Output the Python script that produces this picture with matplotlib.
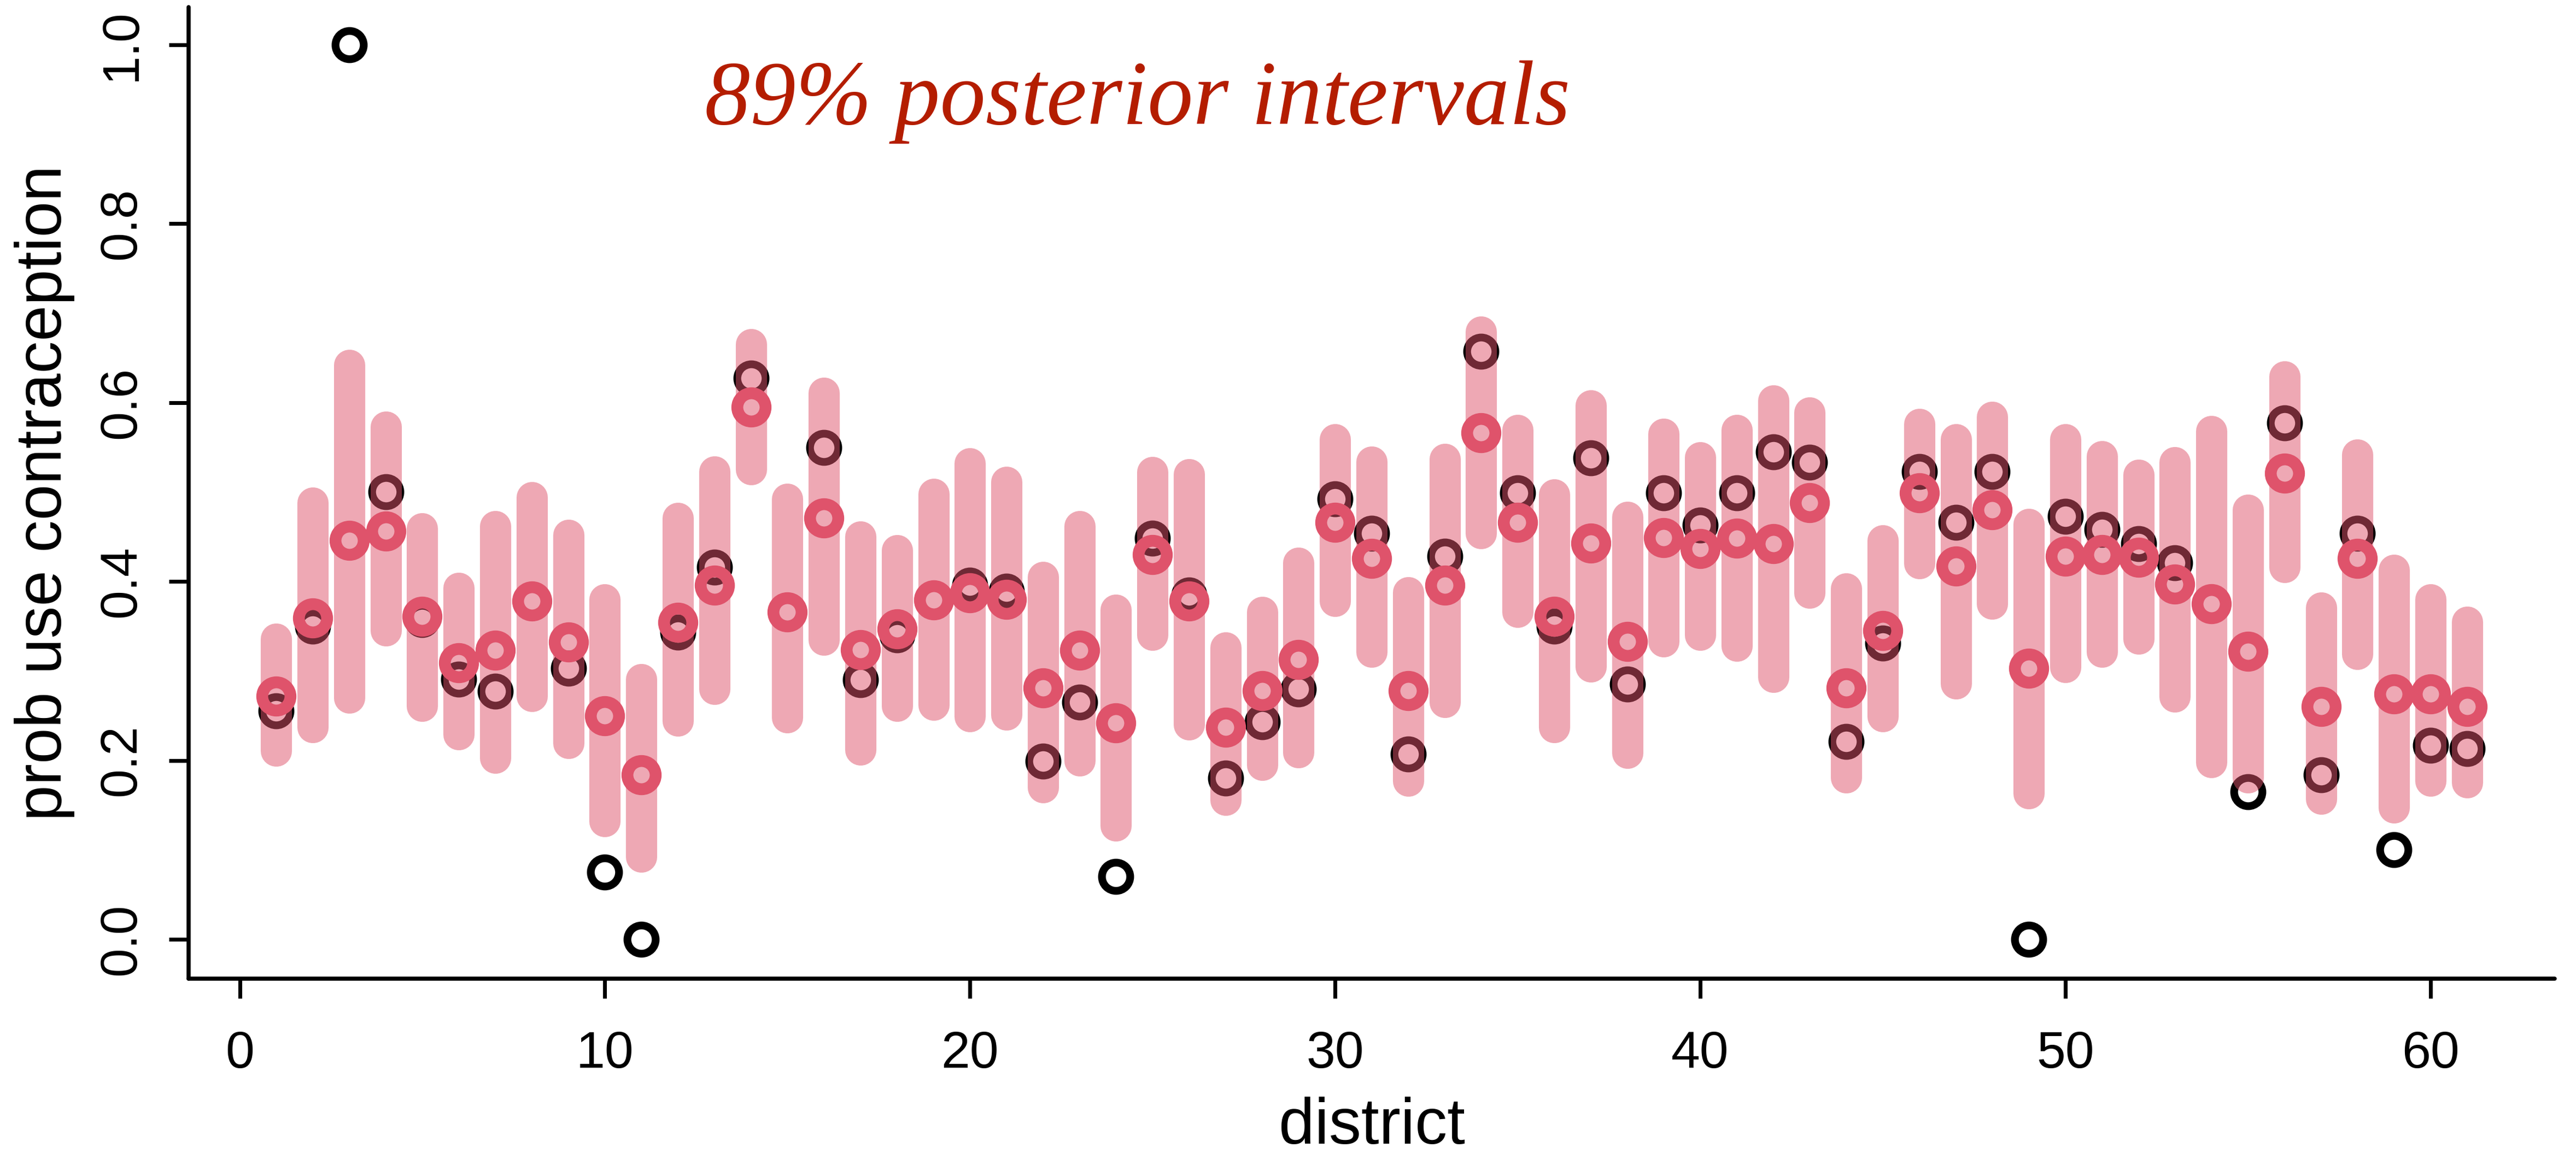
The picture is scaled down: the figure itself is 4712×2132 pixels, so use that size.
import numpy as np
import matplotlib
matplotlib.use("Agg")
import matplotlib.pyplot as plt

# 89% posterior interval bounds, posterior means and raw proportions per district
district = np.arange(1, 62)

upper = [0.336, 0.488, 0.642, 0.573, 0.459, 0.393, 0.462, 0.494, 0.452, 0.380,
         0.291, 0.471, 0.523, 0.665, 0.492, 0.611, 0.450, 0.435, 0.498, 0.532,
         0.511, 0.405, 0.462, 0.368, 0.522, 0.520, 0.326, 0.366, 0.421, 0.559,
         0.534, 0.388, 0.537, 0.679, 0.569, 0.497, 0.597, 0.472, 0.565, 0.539,
         0.569, 0.602, 0.589, 0.392, 0.446, 0.576, 0.559, 0.584, 0.464, 0.559,
         0.540, 0.519, 0.533, 0.568, 0.480, 0.629, 0.371, 0.542, 0.413, 0.380,
         0.355]

lower = [0.211, 0.237, 0.270, 0.345, 0.261, 0.229, 0.203, 0.272, 0.219, 0.132,
         0.092, 0.244, 0.280, 0.525, 0.248, 0.335, 0.212, 0.261, 0.262, 0.249,
         0.251, 0.170, 0.200, 0.127, 0.340, 0.240, 0.156, 0.195, 0.209, 0.378,
         0.321, 0.177, 0.265, 0.454, 0.366, 0.237, 0.305, 0.208, 0.333, 0.340,
         0.328, 0.293, 0.387, 0.181, 0.249, 0.420, 0.286, 0.375, 0.163, 0.304,
         0.321, 0.336, 0.271, 0.198, 0.181, 0.416, 0.157, 0.319, 0.147, 0.177,
         0.175]

posterior_mean = [0.272, 0.359, 0.446, 0.456, 0.361, 0.309, 0.323, 0.378, 0.332, 0.250,
                  0.184, 0.354, 0.396, 0.595, 0.366, 0.471, 0.324, 0.347, 0.379, 0.387,
                  0.380, 0.281, 0.323, 0.242, 0.430, 0.378, 0.237, 0.278, 0.313, 0.466,
                  0.426, 0.278, 0.396, 0.566, 0.466, 0.361, 0.443, 0.333, 0.449, 0.437,
                  0.448, 0.442, 0.488, 0.281, 0.345, 0.499, 0.417, 0.480, 0.303, 0.428,
                  0.430, 0.427, 0.397, 0.375, 0.322, 0.521, 0.260, 0.426, 0.274, 0.274,
                  0.260]

observed = [0.255, 0.350, 1.000, 0.500, 0.357, 0.291, 0.277, 0.378, 0.303, 0.075,
            0.000, 0.343, 0.416, 0.627, 0.366, 0.550, 0.290, 0.340, 0.381, 0.396,
            0.389, 0.199, 0.265, 0.070, 0.448, 0.385, 0.180, 0.243, 0.280, 0.492,
            0.454, 0.207, 0.428, 0.657, 0.499, 0.350, 0.538, 0.285, 0.499, 0.463,
            0.499, 0.545, 0.533, 0.221, 0.331, 0.523, 0.466, 0.523, 0.000, 0.473,
            0.458, 0.442, 0.421, 0.375, 0.165, 0.577, 0.184, 0.454, 0.100, 0.217,
            0.213]

x_ticks = [0, 10, 20, 30, 40, 50, 60]
y_ticks = [0.0, 0.2, 0.4, 0.6, 0.8, 1.0]

red = "#DF536B"

plt.rcParams["font.family"] = ["Liberation Sans", "DejaVu Sans"]

fig = plt.figure(figsize=(4712 / 300, 2132 / 300), dpi=300)
ax = fig.add_axes([345 / 4712, 1 - 1791 / 2132, (4673 - 345) / 4712, (1791 - 13) / 2132])

# raw proportions first, so the translucent intervals tint them
ax.plot(district, observed, linestyle="none", marker="o", markersize=12.4,
        markerfacecolor="none", markeredgecolor="black", markeredgewidth=3.4, zorder=2)

for d, lo, hi in zip(district, lower, upper):
    ax.plot([d, d], [lo, hi], color=red, alpha=0.5, linewidth=13.7,
            solid_capstyle="round", zorder=3)

ax.plot(district, posterior_mean, linestyle="none", marker="o", markersize=12.4,
        markerfacecolor="none", markeredgecolor=red, markeredgewidth=5.2, zorder=4)

ax.set_xlim(-1.4, 63.4)
ax.set_ylim(-0.044, 1.042)

ax.set_xticks(x_ticks)
ax.set_xticklabels([str(t) for t in x_ticks])
ax.set_yticks(y_ticks)
ax.set_yticklabels([f"{t:.1f}" for t in y_ticks], rotation=90, va="center")

for side in ("top", "right"):
    ax.spines[side].set_visible(False)
for side in ("left", "bottom"):
    ax.spines[side].set_linewidth(1.8)
    ax.spines[side].set_capstyle("round")

ax.tick_params(axis="both", length=8.6, width=1.7, labelsize=22.8, color="black")
ax.tick_params(axis="x", pad=14)
ax.tick_params(axis="y", pad=10)

ax.set_xlabel("district", fontsize=28.3, labelpad=8)
ax.set_ylabel("prob use contraception", fontsize=28.3, labelpad=10)

ax.text(0.4415, 0.8935, "89% posterior intervals", transform=fig.transFigure,
        ha="center", va="baseline", fontsize=40, style="italic",
        family=["Liberation Serif", "DejaVu Serif"], color="#B41D00")

fig.savefig("out.png", dpi=300)
